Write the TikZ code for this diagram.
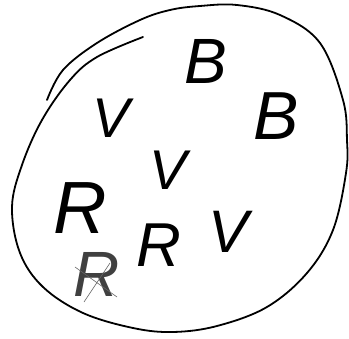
\documentclass[tikz,border=0pt]{standalone}
\usepackage{fontspec}
\setmainfont{Liberation Sans}
\begin{document}
\begin{tikzpicture}[x=1pt,y=-1pt,
  outline/.style={line width=1.8pt, line cap=round, line join=round},
  letter/.style={inner sep=0pt, anchor=center, font=\fontsize{#1}{#1}\selectfont\itshape},
  letter/.default=60,
  scribble/.style={line width=0.6pt, black!60, line cap=round}]
\useasboundingbox (0,0) rectangle (349,339);
% main loop (open, ends overlap at top left)
\draw[outline] plot[smooth, tension=0.6] coordinates {
 (143,37) (97,57) (70,80) (42,120) (22,165) (12,207) (20,253) (43,287)
 (83,313) (133,328) (173,332) (217,326) (267,307) (307,273) (333,230)
 (346,173) (347,140) (343,100) (320,43) (280,15) (237,5) (200,6) (170,10)
 (140,20) (97,43) (63,70) (47,100)};
% letters
\node[letter=64] (b1) at (206,61) {B};
\node[letter=68] (b2) at (276,116) {B};
\node[letter=56] (v1) at (111,118) {V};
\node[letter=56] (v2) at (168,170) {V};
\node[letter=74] (r1) at (80,208) {R};
\node[letter=62] (r2) at (159,245) {R};
\node[letter=60] (v3) at (229,232) {V};
\node[letter=64, text=black!75] (r3) at (97,274) {R};
\coordinate (s1) at (75,267);
\coordinate (s2) at (117,297);
\coordinate (s3) at (84,302);
\coordinate (s4) at (110,263);
\draw[scribble] (s1) -- (s2);
\draw[scribble] (s3) -- (s4);
\end{tikzpicture}
\end{document}
